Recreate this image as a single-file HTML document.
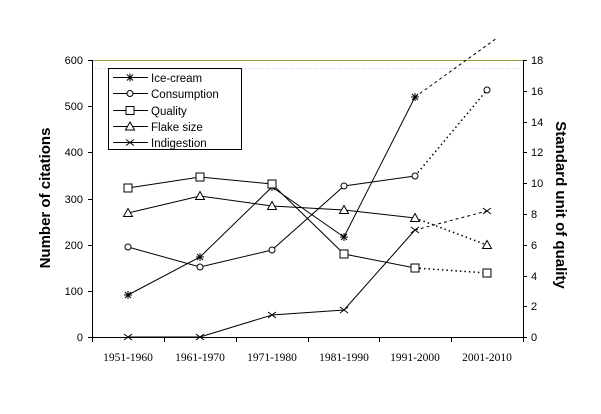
<!DOCTYPE html>
<html><head><meta charset="utf-8"><style>body{margin:0;background:#fff}svg{display:block}</style></head><body>
<svg width="601" height="414" xmlns="http://www.w3.org/2000/svg" font-family="Liberation Sans, sans-serif">
<defs>
<g id="star"><path d="M-4,0H4M0,-4V4M-3,-3L3,3M-3,3L3,-3" stroke="#000" fill="none"/></g>
<g id="circ"><circle r="3" fill="#fff" stroke="#000"/></g>
<g id="sq"><rect x="-4" y="-4" width="8" height="8" fill="#fff" stroke="#000"/></g>
<g id="tri"><path d="M0,-4.5L4.5,3.5H-4.5Z" fill="#fff" stroke="#000"/></g>
<g id="x"><path d="M-4,-3L4,3M-4,3L4,-3" stroke="#000" fill="none"/></g>
</defs>
<line x1="92" y1="60.5" x2="523" y2="60.5" stroke="#9a9a40" stroke-width="1"/>
<line x1="92" y1="68.5" x2="520" y2="68.5" stroke="#c8c8ff" stroke-dasharray="1,2"/>
<g stroke="#000" fill="none" stroke-width="1">
<path d="M92.5,60V337.5H523.5V60"/>
<path d="M88,60.5H92M88,106.5H92M88,152.5H92M88,199.5H92M88,245.5H92M88,291.5H92M88,337.5H92"/>
<path d="M523,60.5h4M523,91.5h4M523,122.5h4M523,152.5h4M523,183.5h4M523,214.5h4M523,245.5h4M523,276.5h4M523,306.5h4M523,337.5h4"/>
<path d="M164.5,337V342M236.5,337V342M308.5,337V342M379.5,337V342M451.5,337V342M92.5,337V342M523.5,337V342"/>
<polyline points="128,295 200,257 272,187 344,237 415,97"/>
<polyline points="128,247 200,267 272,250 344,186 415,176"/>
<polyline points="128,188 200,177 272,184 344,254 415,268"/>
<polyline points="128,213 200,196 272,206 344,210 415,218"/>
<polyline points="128,337 200,337 272,315 344,310 415,230"/>
<line x1="415" y1="97" x2="497" y2="38" stroke-dasharray="3,3"/>
<line x1="415" y1="176" x2="487" y2="90" stroke-dasharray="1.5,3" stroke-width="1.5"/>
<line x1="415" y1="268" x2="487" y2="273" stroke-dasharray="1.5,3" stroke-width="1.5"/>
<line x1="415" y1="218" x2="487" y2="245" stroke-dasharray="1.5,3" stroke-width="1.5"/>
<line x1="415" y1="230" x2="487" y2="211" stroke-dasharray="3,3"/>
</g>
<g>
<use href="#star" x="128" y="295"/><use href="#star" x="200" y="257"/><use href="#star" x="272" y="187"/><use href="#star" x="344" y="237"/><use href="#star" x="415" y="97"/>
<use href="#circ" x="128" y="247"/><use href="#circ" x="200" y="267"/><use href="#circ" x="272" y="250"/><use href="#circ" x="344" y="186"/><use href="#circ" x="415" y="176"/><use href="#circ" x="487" y="90"/>
<use href="#sq" x="128" y="188"/><use href="#sq" x="200" y="177"/><use href="#sq" x="272" y="184"/><use href="#sq" x="344" y="254"/><use href="#sq" x="415" y="268"/><use href="#sq" x="487" y="273"/>
<use href="#tri" x="128" y="213"/><use href="#tri" x="200" y="196"/><use href="#tri" x="272" y="206"/><use href="#tri" x="344" y="210"/><use href="#tri" x="415" y="218"/><use href="#tri" x="487" y="245"/>
<use href="#x" x="128" y="337"/><use href="#x" x="200" y="337"/><use href="#x" x="272" y="315"/><use href="#x" x="344" y="310"/><use href="#x" x="415" y="230"/><use href="#x" x="487" y="211"/>
</g>
<g font-size="11" text-anchor="end">
<text x="83" y="64">600</text><text x="83" y="110">500</text><text x="83" y="156">400</text><text x="83" y="203">300</text><text x="83" y="249">200</text><text x="83" y="295">100</text><text x="83" y="341">0</text>
</g>
<g font-size="11">
<text x="531" y="64">18</text><text x="531" y="95">16</text><text x="531" y="126">14</text><text x="531" y="156">12</text><text x="531" y="187">10</text><text x="531" y="218">8</text><text x="531" y="249">6</text><text x="531" y="280">4</text><text x="531" y="310">2</text><text x="531" y="341">0</text>
</g>
<g font-family="Liberation Serif, serif" font-size="11.5" text-anchor="middle">
<text x="128" y="361">1951-1960</text><text x="200" y="361">1961-1970</text><text x="272" y="361">1971-1980</text><text x="344" y="361">1981-1990</text><text x="415" y="361">1991-2000</text><text x="487" y="361">2001-2010</text>
</g>
<text transform="translate(50,198) rotate(-90)" text-anchor="middle" font-size="15" font-weight="bold">Number of citations</text>
<text transform="translate(556,205) rotate(90)" text-anchor="middle" font-size="15" font-weight="bold">Standard unit of quality</text>
<rect x="108.5" y="68.5" width="133" height="81" fill="#fff" stroke="#000"/>
<g stroke="#000"><line x1="113" y1="77.5" x2="148" y2="77.5"/><line x1="113" y1="93.5" x2="148" y2="93.5"/><line x1="113" y1="110.5" x2="148" y2="110.5"/><line x1="113" y1="126.5" x2="148" y2="126.5"/><line x1="113" y1="142.5" x2="148" y2="142.5"/></g>
<use href="#star" x="130" y="77.5"/><use href="#circ" x="130" y="93.5"/><use href="#sq" x="130" y="110.5"/><use href="#tri" x="130" y="126.5"/><use href="#x" x="130" y="142.5"/>
<g font-size="11.5">
<text x="151" y="82">Ice-cream</text><text x="151" y="98">Consumption</text><text x="151" y="115">Quality</text><text x="151" y="131">Flake size</text><text x="151" y="147">Indigestion</text>
</g>
</svg>
</body></html>
